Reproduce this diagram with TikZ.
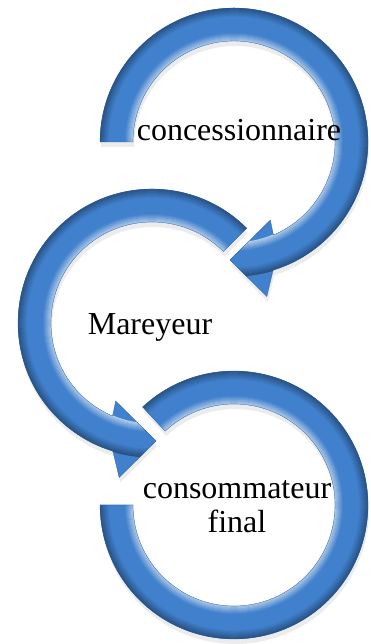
\documentclass[tikz,border=0pt]{standalone}
\usepackage{fontspec}
\setmainfont{Liberation Serif}
\usepackage{tikz}
\usetikzlibrary{calc}
\usetikzlibrary{shadows}
\definecolor{ringblue}{RGB}{64,128,204}
\definecolor{ringdark}{RGB}{40,90,155}
\newcommand{\arrowpath}[1]{(#1:134pt) arc[start angle=#1, end angle=-73, radius=134pt] -- (-78:158pt) -- (-92:118pt) -- (-65:86pt) -- (-67:101pt) arc[start angle=-67, end angle=#1, radius=101pt] -- cycle}
\newcommand{\ringpath}[2]{(#1:134pt) arc[start angle=#1, end angle=#2, radius=134pt] -- (#2:101pt) arc[start angle=#2, end angle=#1, radius=101pt] -- cycle}
\newcommand{\gloss}[1]{ \fill[ringblue, drop shadow={opacity=0.15, shadow xshift=1pt, shadow yshift=-5pt}] #1;
  \begin{scope} \clip #1;
    \foreach \r in {101,...,134} { \pgfmathsetmacro\lt{max(0,60-7*(\r-101))} \pgfmathsetmacro\kp{100-max(0,4*(\r-125))}
      \draw[white!\lt!ringblue!\kp!black, line width=1.3pt] (0,0) circle[radius=\r pt]; }
  \end{scope} \draw[ringdark, very thin] #1;}
\newcommand{\lablnode}[4]{\node[font=\fontsize{32}{34}\selectfont, align=center, anchor=base, inner sep=0pt] (#1) at ( #2 , #3 ) {#4};}

\begin{document}
\begin{tikzpicture}[x=1pt, y=1pt]
        \useasboundingbox (0,0) rectangle (371,644);
        \begin{scope}[shift={(234,502)}] \gloss{\arrowpath{180}} \end{scope}
        \begin{scope}[shift={(152,321)}, xscale=-1] \gloss{\arrowpath{135}} \end{scope}
        \begin{scope}[shift={(234,139)}] \gloss{\ringpath{133}{-180}} \end{scope}
        \lablnode{conc}{239}{503}{concessionnaire}
        \lablnode{mar}{150}{309}{Mareyeur}
        \lablnode{cons}{237}{111}{consommateur\\final}
    \end{tikzpicture}
\end{document}
